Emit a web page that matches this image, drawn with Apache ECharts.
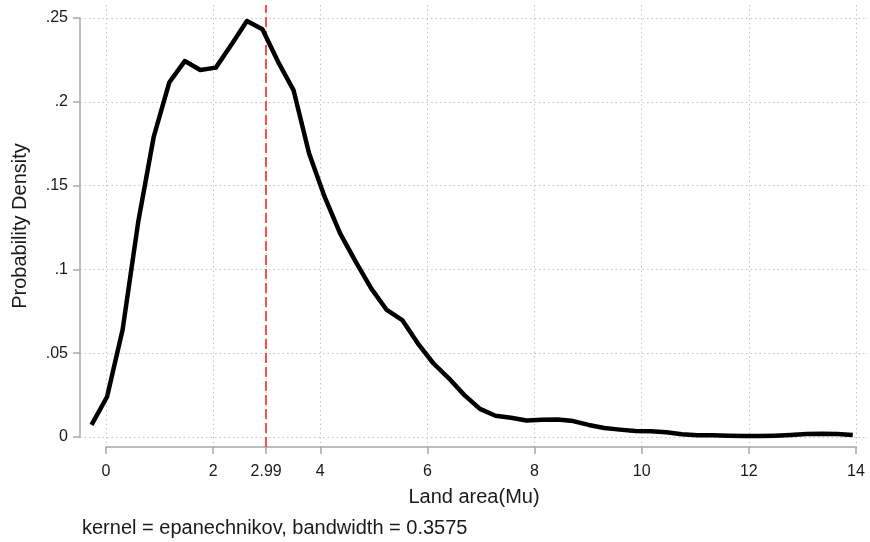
<!DOCTYPE html>
<html>
<head>
<meta charset="utf-8">
<script src="https://cdn.jsdelivr.net/npm/echarts@6/dist/echarts.min.js"></script>
<style>html,body{margin:0;padding:0;background:#fff;}#c{width:870px;height:542px;}</style>
</head>
<body>
<div id="c"></div>
<script>
// Kernel density estimate (Stata kdensity, 50 points)
var landArea = [-0.27, 0.02, 0.31, 0.60, 0.89, 1.18, 1.47, 1.76, 2.05, 2.34,
  2.63, 2.92, 3.21, 3.50, 3.79, 4.08, 4.37, 4.66, 4.95, 5.24,
  5.53, 5.82, 6.11, 6.40, 6.69, 6.98, 7.27, 7.56, 7.85, 8.14,
  8.43, 8.72, 9.01, 9.30, 9.59, 9.88, 10.17, 10.46, 10.75, 11.04,
  11.33, 11.62, 11.91, 12.20, 12.49, 12.78, 13.07, 13.36, 13.65, 13.94];
var density = [0.0072, 0.0240, 0.0640, 0.1280, 0.1790, 0.2115, 0.2243, 0.2190, 0.2204, 0.2340,
  0.2482, 0.2433, 0.2240, 0.2070, 0.1693, 0.1434, 0.1215, 0.1046, 0.0887, 0.0758,
  0.0698, 0.0559, 0.0440, 0.0350, 0.0250, 0.0168, 0.0127, 0.0115, 0.0098, 0.0103,
  0.0105, 0.0095, 0.0072, 0.0054, 0.0044, 0.0036, 0.0034, 0.0028, 0.0016, 0.0010,
  0.0010, 0.0008, 0.0006, 0.0006, 0.0008, 0.0012, 0.0018, 0.0020, 0.0018, 0.0012];
var meanValue = 2.99;
var xTickValues = [0, 2, 2.99, 4, 6, 8, 10, 12, 14];
var yTickValues = [0, 0.05, 0.1, 0.15, 0.2, 0.25];
var yTickLabels = ['0', '.05', '.1', '.15', '.2', '.25'];
var xTitle = 'Land area(Mu)';
var yTitle = 'Probability Density';
var noteText = 'kernel = epanechnikov, bandwidth = 0.3575';

// Layout (pixels)
var W = 870, H = 542;
var plotL = 80, plotR = 868, plotT = 5, plotB = 447;
var x0px = 106, x14px = 856;     // axis 0..14
var y0px = 437, y25px = 18;      // axis 0..0.25
var kx = (x14px - x0px) / 14;
var ky = (y0px - y25px) / 0.25;
var xMin = -(x0px - plotL) / kx, xMax = 14 + (plotR - x14px) / kx;
var yMin = -(plotB - y0px) / ky, yMax = 0.25 + (y25px - plotT) / ky;

var font = 'Liberation Sans, Arial, sans-serif';
var txt = '#1a1a1a';
var axisCol = '#a8a8a8';
var gridStyle = { color: '#c4c4c4', width: 1, type: [1.5, 3] };

var chart = echarts.init(document.getElementById('c'), null, { renderer: 'canvas' });
chart.setOption({
  animation: false,
  backgroundColor: '#fff',
  grid: [
    { left: plotL, right: W - plotR, top: plotT, bottom: H - plotB },
    { left: x0px, right: W - x14px, top: plotT, bottom: H - plotB },
    { left: plotL, right: W - plotR, top: y25px, bottom: H - y0px }
  ],
  xAxis: [
    { gridIndex: 0, type: 'value', min: xMin, max: xMax,
      axisLine: { show: false }, axisTick: { show: false }, axisLabel: { show: false }, splitLine: { show: false },
      name: xTitle, nameLocation: 'middle', nameGap: 40,
      nameTextStyle: { fontFamily: font, fontSize: 20, color: txt } },
    { gridIndex: 1, type: 'value', min: 0, max: 14, interval: 2, offset: 3,
      axisLine: { show: true, lineStyle: { color: axisCol, width: 1.5 } },
      axisTick: { show: true, length: 7, customValues: xTickValues, lineStyle: { color: axisCol, width: 1.5 } },
      axisLabel: { show: true, customValues: xTickValues, margin: 14, fontFamily: font, fontSize: 16, color: txt,
        formatter: function (v) { return String(v); } },
      splitLine: { show: true, lineStyle: gridStyle } },
    { gridIndex: 2, type: 'value', min: 0, max: 1, show: false }
  ],
  yAxis: [
    { gridIndex: 0, type: 'value', min: yMin, max: yMax,
      axisLine: { show: false }, axisTick: { show: false }, axisLabel: { show: false }, splitLine: { show: false },
      name: yTitle, nameLocation: 'middle', nameGap: 50,
      nameTextStyle: { fontFamily: font, fontSize: 20, color: txt } },
    { gridIndex: 1, type: 'value', min: 0, max: 1, show: false },
    { gridIndex: 2, type: 'value', min: 0, max: 0.25, interval: 0.05, offset: 1,
      axisLine: { show: true, lineStyle: { color: axisCol, width: 1.5 } },
      axisTick: { show: true, length: 7, lineStyle: { color: axisCol, width: 1.5 } },
      axisLabel: { show: true, margin: 11, fontFamily: font, fontSize: 16, color: txt,
        formatter: function (v) {
          for (var i = 0; i < yTickValues.length; i++) {
            if (Math.abs(yTickValues[i] - v) < 1e-9) return yTickLabels[i];
          }
          return '';
        } },
      splitLine: { show: true, lineStyle: gridStyle } }
  ],
  series: [{
    type: 'line',
    xAxisIndex: 0, yAxisIndex: 0,
    data: landArea.map(function (x, i) { return [x, density[i]]; }),
    showSymbol: false, symbol: 'none', smooth: false,
    lineStyle: { color: '#000', width: 4.5, join: 'round', cap: 'butt' },
    z: 5,
    markLine: {
      silent: true, symbol: 'none', label: { show: false },
      lineStyle: { color: '#ff1a1a', width: 1.5, type: [10, 4] },
      data: [{ xAxis: meanValue }]
    }
  }],
  graphic: [{
    type: 'text', left: 82, top: 518,
    style: { text: noteText, fontFamily: font, fontSize: 20, fill: txt }
  }]
});
</script>
</body>
</html>
